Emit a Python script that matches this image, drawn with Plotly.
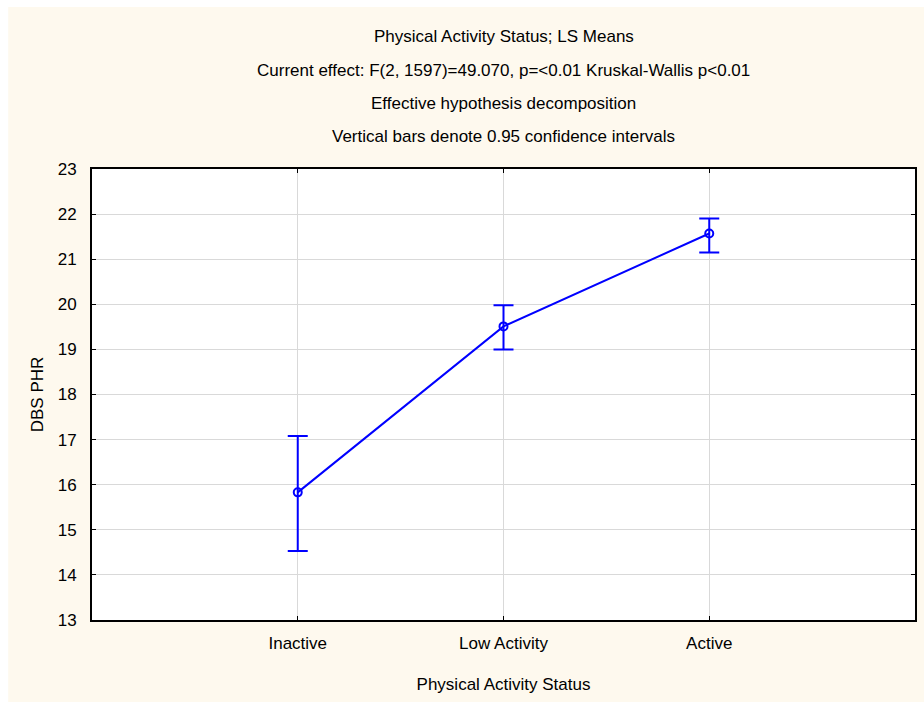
import plotly.graph_objects as go

# LS means of DBS PHR by physical activity status, with 0.95 confidence limits
categories = ["Inactive", "Low Activity", "Active"]
ls_means = [15.83, 19.51, 21.57]
ci_upper = [17.08, 19.98, 21.90]
ci_lower = [14.53, 19.00, 21.15]
y_ticks = list(range(13, 24))

title_lines = [
    "Physical Activity Status; LS Means",
    "Current effect: F(2, 1597)=49.070, p=<0.01 Kruskal-Wallis p<0.01",
    "Effective hypothesis decomposition",
    "Vertical bars denote 0.95 confidence intervals",
]

err_plus = [u - m for u, m in zip(ci_upper, ls_means)]
err_minus = [m - l for m, l in zip(ls_means, ci_lower)]

BLUE = "#0000FF"
CREAM = "#FEF9EE"
FONT = "Liberation Sans, Arial, sans-serif"

W, H = 924, 702
L, R, T, B = 92, 7, 169, 82
pw, ph = W - L - R, H - T - B

fig = go.Figure()
fig.add_trace(go.Scatter(
    x=list(range(len(categories))),
    y=ls_means,
    mode="lines+markers",
    line=dict(color=BLUE, width=2),
    marker=dict(symbol="circle-open", size=8, color=BLUE, line=dict(width=2, color=BLUE)),
    error_y=dict(type="data", symmetric=False, array=err_plus, arrayminus=err_minus,
                 color=BLUE, thickness=2, width=10),
    showlegend=False,
    hoverinfo="x+y",
))

# thin white strips along the left and top edges of the cream page
fig.add_shape(type="rect", xref="paper", yref="paper", layer="below",
              x0=-(L + 2) / pw, x1=(8 - L) / pw,
              y0=-(B + 2) / ph, y1=(H - B + 2) / ph,
              fillcolor="white", line=dict(width=0))
fig.add_shape(type="rect", xref="paper", yref="paper", layer="below",
              x0=-(L + 2) / pw, x1=(W - L + 2) / pw,
              y0=(H - 7 - B) / ph, y1=(H - B + 2) / ph,
              fillcolor="white", line=dict(width=0))

line_y = [37, 70, 103, 137]
for txt, py in zip(title_lines, line_y):
    fig.add_annotation(text=txt, xref="paper", yref="paper",
                       x=0.5, y=(H - B - py) / ph, xanchor="center", yanchor="middle",
                       showarrow=False, font=dict(size=17, color="black", family=FONT))

fig.update_layout(
    width=W, height=H,
    margin=dict(l=L, r=R, t=T, b=B),
    paper_bgcolor=CREAM,
    plot_bgcolor="white",
    font=dict(family=FONT, size=17, color="black"),
    xaxis=dict(
        range=[-1, 3],
        tickmode="array", tickvals=list(range(len(categories))), ticktext=categories,
        showgrid=True, gridcolor="#D9D9D9", gridwidth=1, zeroline=False,
        showline=True, linecolor="black", linewidth=2, mirror="ticks",
        ticks="inside", ticklen=4, tickcolor="black", tickwidth=1,
        tickfont=dict(size=17), ticklabelstandoff=7,
        title=dict(text="Physical Activity Status", font=dict(size=17), standoff=26),
    ),
    yaxis=dict(
        range=[13, 23],
        tickmode="array", tickvals=y_ticks,
        showgrid=True, gridcolor="#D9D9D9", gridwidth=1, zeroline=False,
        showline=True, linecolor="black", linewidth=2, mirror="ticks",
        ticks="inside", ticklen=4, tickcolor="black", tickwidth=1,
        tickfont=dict(size=17), ticklabelstandoff=10,
        title=dict(text="DBS PHR", font=dict(size=17), standoff=10),
    ),
)

fig.write_html("out.html")
